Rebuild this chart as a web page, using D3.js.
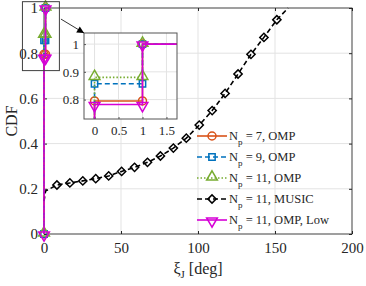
<!DOCTYPE html>
<html>
<head>
<meta charset="utf-8">
<script src="https://cdn.jsdelivr.net/npm/d3@7"></script>
<style>
body { margin: 0; background: #fff; }
svg text { font-family: "Liberation Serif", "Times New Roman", serif; fill: #262626; }
</style>
</head>
<body>
<div id="chart-area"></div>
<script>
const FWIDTH = 366,
	FHEIGHT = 286;
const MARGIN = { LEFT: 44, RIGHT: 14, TOP: 8, BOTTOM: 52 };
const WIDTH = FWIDTH - (MARGIN.LEFT + MARGIN.RIGHT);
const HEIGHT = FHEIGHT - (MARGIN.TOP + MARGIN.BOTTOM);
const INSET = { LEFT: 84, TOP: 33, WIDTH: 93, HEIGHT: 86 };
const SERIF = "'Liberation Serif', 'Times New Roman', serif";

// tick values
const xTicks = [0, 50, 100, 150, 200];
const yTicks = [0, 0.2, 0.4, 0.6, 0.8, 1];
const insetXTicks = [0, 0.5, 1, 1.5];
const insetYTicks = [0.8, 0.9, 1];

// OMP curves are steps: nothing below 0, a jump at 0, then 1 from 1 deg on
const ompX = [0, 0, 1, 1, 3];
const omp7Y = [0, 0.795, 0.795, 1, 1];
const omp9Y = [0, 0.857, 0.857, 1, 1];
const omp11Y = [0, 0.88, 0.88, 1, 1];
const ompLowY = [0, 0.782, 0.782, 1, 1];

// MUSIC curve
const musicX = [0, 1, 8.4, 16.8, 25.2, 33.6, 42, 50.4, 58.8, 67.2, 75.6, 84, 92.4,
	100.8, 109.2, 117.6, 126, 134.4, 142.8, 151.2, 158.5];
const musicY = [0.145, 0.19, 0.217, 0.226, 0.235, 0.245, 0.257, 0.277, 0.295, 0.317,
	0.345, 0.38, 0.424, 0.482, 0.546, 0.622, 0.708, 0.795, 0.87, 0.948, 1];

const legendLabels = ["7, OMP", "9, OMP", "11, OMP", "11, MUSIC", "11, OMP, Low"];

const series = [
	{ x: ompX, y: omp7Y, color: "#D95319", dash: null, marker: "circle", marks: [0, 1, 2, 3] },
	{ x: ompX, y: omp9Y, color: "#0072BD", dash: "5,3", marker: "square", marks: [0, 1, 2, 3] },
	{ x: ompX, y: omp11Y, color: "#77AC30", dash: "1.5,2", marker: "triangle", marks: [0, 1, 2, 3] },
	{ x: musicX, y: musicY, color: "#000000", dash: "5,3", marker: "diamond",
		marks: d3.range(2, musicX.length - 1) },
	{ x: ompX, y: ompLowY, color: "#D600D6", dash: null, marker: "triangleDown", marks: [0, 1, 2, 3] },
];

const symbols = {
	circle: d3.symbol().type(d3.symbolCircle).size(50),
	square: d3.symbol().type(d3.symbolSquare).size(40),
	triangle: d3.symbol().type(d3.symbolTriangle).size(50),
	diamond: d3.symbol().type(d3.symbolSquare).size(34),
	triangleDown: d3.symbol().type(d3.symbolTriangle).size(50),
};
function markerTransform(s, px, py) {
	if (s.marker === "diamond") return `translate(${px},${py}) rotate(45)`;
	if (s.marker === "triangleDown") return `translate(${px},${py + 1}) rotate(180)`;
	if (s.marker === "triangle") return `translate(${px},${py - 1})`;
	return `translate(${px},${py})`;
}

const svg = d3
	.select("#chart-area")
	.append("svg")
	.attr("width", FWIDTH)
	.attr("height", FHEIGHT);

const g = svg.append("g").attr("transform", `translate(${MARGIN.LEFT}, ${MARGIN.TOP})`);

const x = d3.scaleLinear().domain([0, 200]).range([0, WIDTH]);
const y = d3.scaleLinear().domain([0, 1]).range([HEIGHT, 0]);

// grid
g.append("g")
	.selectAll("line")
	.data(xTicks)
	.enter()
	.append("line")
	.attr("x1", (d) => x(d))
	.attr("x2", (d) => x(d))
	.attr("y1", 0)
	.attr("y2", HEIGHT)
	.attr("stroke", "#e3e3e3");
g.append("g")
	.selectAll("line")
	.data(yTicks)
	.enter()
	.append("line")
	.attr("y1", (d) => y(d))
	.attr("y2", (d) => y(d))
	.attr("x1", 0)
	.attr("x2", WIDTH)
	.attr("stroke", "#e3e3e3");

// axes (ticks inward, mirrored)
function styleAxis(sel) {
	sel.attr("font-family", SERIF);
	sel.select(".domain").remove();
	sel.selectAll(".tick line").attr("stroke", "#262626");
	sel.selectAll(".tick text").attr("fill", "#262626").style("font-family", SERIF).style("font-size", "15px");
}
g.append("g")
	.attr("transform", `translate(0, ${HEIGHT})`)
	.call(d3.axisBottom(x).tickValues(xTicks).tickSizeInner(-3).tickSizeOuter(0).tickPadding(8).tickFormat(d3.format("d")))
	.call(styleAxis);
g.append("g")
	.call(d3.axisTop(x).tickValues(xTicks).tickSizeInner(-3).tickSizeOuter(0).tickFormat(""))
	.call(styleAxis);
g.append("g")
	.call(d3.axisLeft(y).tickValues(yTicks).tickSizeInner(-3).tickSizeOuter(0).tickPadding(6).tickFormat((d) => d3.format("")(d)))
	.call(styleAxis);
g.append("g")
	.attr("transform", `translate(${WIDTH}, 0)`)
	.call(d3.axisRight(y).tickValues(yTicks).tickSizeInner(-3).tickSizeOuter(0).tickFormat(""))
	.call(styleAxis);
g.append("rect")
	.attr("width", WIDTH)
	.attr("height", HEIGHT)
	.attr("fill", "none")
	.attr("stroke", "#262626")
	.attr("stroke-width", 0.8);

// labels
g.append("text")
	.attr("transform", `translate(${-27}, ${HEIGHT / 2}) rotate(-90)`)
	.attr("text-anchor", "middle")
	.style("font-size", "16px")
	.text("CDF");
const xl = g.append("text")
	.attr("x", WIDTH / 2)
	.attr("y", HEIGHT + 40)
	.attr("text-anchor", "middle")
	.style("font-size", "16px");
xl.append("tspan").text("ξ");
xl.append("tspan").attr("dy", 4).style("font-size", "11px").text("J");
xl.append("tspan").attr("dy", -4).text(" [deg]");

// data
function drawSeries(target, xs, ys) {
	series.forEach((s) => {
		const pts = s.x.map((v, i) => [v, s.y[i]]);
		target.append("path")
			.datum(pts)
			.attr("d", d3.line().x((d) => xs(d[0])).y((d) => ys(d[1])))
			.attr("fill", "none")
			.attr("stroke", s.color)
			.attr("stroke-width", 1.6)
			.attr("stroke-dasharray", s.dash);
		target.append("g")
			.selectAll("path")
			.data(s.marks.map((i) => pts[i]))
			.enter()
			.append("path")
			.attr("d", symbols[s.marker])
			.attr("transform", (d) => markerTransform(s, xs(d[0]), ys(d[1])))
			.attr("fill", "none")
			.attr("stroke", s.color)
			.attr("stroke-width", 1.5);
	});
}
drawSeries(g, x, y);

// legend
const legend = g.append("g").attr("transform", `translate(${197 - MARGIN.LEFT}, ${136 - MARGIN.TOP})`);
const items = legend
	.selectAll(".legend-item")
	.data(series)
	.enter()
	.append("g")
	.attr("class", "legend-item")
	.attr("transform", (d, i) => `translate(0, ${i * 21})`);
items.append("line")
	.attr("x1", 0)
	.attr("x2", 30)
	.attr("stroke", (d) => d.color)
	.attr("stroke-width", 1.6)
	.attr("stroke-dasharray", (d) => d.dash);
items.append("path")
	.attr("d", (d) => symbols[d.marker]())
	.attr("transform", (d) => markerTransform(d, 15, 0))
	.attr("fill", "none")
	.attr("stroke", (d) => d.color)
	.attr("stroke-width", 1.5);
const lt = items.append("text")
	.attr("x", 32)
	.attr("y", 4)
	.style("font-size", "12.5px");
lt.append("tspan").text("N");
lt.append("tspan").attr("dy", 5).style("font-size", "9px").text("p");
lt.append("tspan").attr("dy", -5).text((d, i) => " = " + legendLabels[i]);

// zoom box on the main axes
g.append("rect")
	.attr("x", x(-14))
	.attr("y", y(1.028))
	.attr("width", x(10) - x(-14))
	.attr("height", y(0.723) - y(1.028))
	.attr("fill", "none")
	.attr("stroke", "#404040")
	.attr("stroke-width", 1);

// inset
const ix = d3.scaleLinear().domain([-0.22, 1.72]).range([0, INSET.WIDTH]);
const iy = d3.scaleLinear().domain([0.73, 1.04]).range([INSET.HEIGHT, 0]);
const ig = svg.append("g").attr("transform", `translate(${INSET.LEFT}, ${INSET.TOP})`);
ig.append("rect").attr("width", INSET.WIDTH).attr("height", INSET.HEIGHT).attr("fill", "#fff");
svg.append("clipPath").attr("id", "inset-clip")
	.append("rect").attr("width", INSET.WIDTH).attr("height", INSET.HEIGHT);
ig.append("g")
	.selectAll("line")
	.data(insetXTicks)
	.enter()
	.append("line")
	.attr("x1", (d) => ix(d))
	.attr("x2", (d) => ix(d))
	.attr("y1", 0)
	.attr("y2", INSET.HEIGHT)
	.attr("stroke", "#e3e3e3");
ig.append("g")
	.selectAll("line")
	.data(insetYTicks)
	.enter()
	.append("line")
	.attr("y1", (d) => iy(d))
	.attr("y2", (d) => iy(d))
	.attr("x1", 0)
	.attr("x2", INSET.WIDTH)
	.attr("stroke", "#e3e3e3");
function styleInset(sel) {
	sel.attr("font-family", SERIF);
	sel.select(".domain").remove();
	sel.selectAll(".tick line").attr("stroke", "#555");
	sel.selectAll(".tick text").attr("fill", "#262626").style("font-family", SERIF).style("font-size", "13px");
}
ig.append("g")
	.attr("transform", `translate(0, ${INSET.HEIGHT})`)
	.call(d3.axisBottom(ix).tickValues(insetXTicks).tickSizeInner(-2).tickSizeOuter(0).tickPadding(7).tickFormat((d) => d3.format("")(d)))
	.call(styleInset);
ig.append("g")
	.call(d3.axisLeft(iy).tickValues(insetYTicks).tickSizeInner(-2).tickSizeOuter(0).tickPadding(5).tickFormat((d) => d3.format("")(d)))
	.call(styleInset);
drawSeries(ig.append("g").attr("clip-path", "url(#inset-clip)"), ix, iy);
ig.append("rect")
	.attr("width", INSET.WIDTH)
	.attr("height", INSET.HEIGHT)
	.attr("fill", "none")
	.attr("stroke", "#555")
	.attr("stroke-width", 1);

// arrow from the zoom box to the inset
svg.append("defs").append("marker")
	.attr("id", "arrow")
	.attr("viewBox", "0 0 10 10")
	.attr("refX", 10)
	.attr("refY", 5)
	.attr("markerWidth", 9)
	.attr("markerHeight", 7)
	.attr("markerUnits", "userSpaceOnUse")
	.attr("orient", "auto")
	.append("path")
	.attr("d", "M0,0 L10,5 L0,10 z")
	.attr("fill", "#000");
svg.append("line")
	.attr("x1", MARGIN.LEFT + x(11))
	.attr("y1", MARGIN.TOP + y(0.951))
	.attr("x2", INSET.LEFT + ix(-0.22))
	.attr("y2", INSET.TOP + iy(1.04))
	.attr("stroke", "#000")
	.attr("stroke-width", 0.8)
	.attr("marker-end", "url(#arrow)");
</script>
</body>
</html>
